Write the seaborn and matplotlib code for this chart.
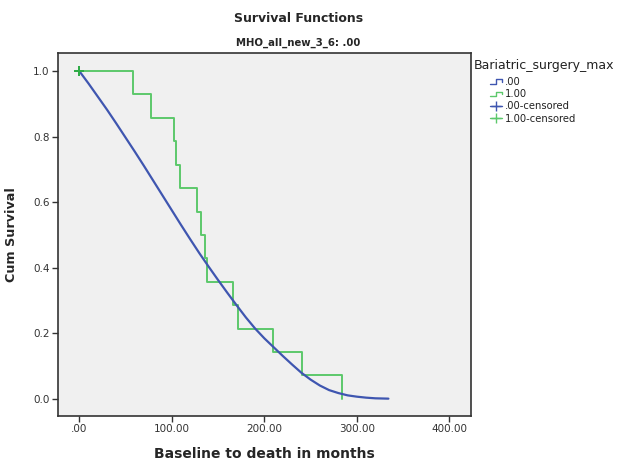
import matplotlib
matplotlib.use("Agg")
import matplotlib.pyplot as plt
import pandas as pd
import seaborn as sns
from matplotlib.lines import Line2D
from matplotlib.legend_handler import HandlerBase

# Group .00 : cumulative survival estimates over time (months)
time_00 = [0, 10, 20, 30, 40, 50, 60, 70, 80, 90, 100, 110, 120, 130, 140, 150,
           160, 170, 180, 190, 200, 210, 220, 230, 240, 250, 260, 270, 280, 290,
           300, 310, 320, 334]
surv_00 = [1.000, 0.962, 0.922, 0.882, 0.840, 0.797, 0.754, 0.710, 0.665, 0.620,
           0.575, 0.530, 0.486, 0.443, 0.402, 0.362, 0.323, 0.285, 0.248, 0.214,
           0.184, 0.157, 0.130, 0.104, 0.079, 0.058, 0.040, 0.026, 0.017, 0.010,
           0.006, 0.003, 0.001, 0.000]

# Group 1.00 : Kaplan-Meier steps (event times and survival after each event)
time_100 = [0, 58.5, 78, 102, 104, 109, 127.5, 131, 135.5, 138, 166, 172, 209, 241, 284]
surv_100 = [1.000, 0.929, 0.857, 0.786, 0.714, 0.643, 0.571, 0.500, 0.429,
            0.357, 0.286, 0.214, 0.143, 0.071, 0.000]

# Censored observations
cens_time_00 = [0]
cens_surv_00 = [1.0]
cens_time_100 = [0]
cens_surv_100 = [1.0]

group_labels = [".00", "1.00", ".00-censored", "1.00-censored"]
x_ticks = [0, 100, 200, 300, 400]
x_tick_labels = [".00", "100.00", "200.00", "300.00", "400.00"]
y_ticks = [0.0, 0.2, 0.4, 0.6, 0.8, 1.0]
y_tick_labels = ["0.0", "0.2", "0.4", "0.6", "0.8", "1.0"]

BLUE = "#3f56b0"
GREEN = "#5cc86b"
GREEN_DARK = "#2fae45"

sns.set_style("white")
plt.rcParams["font.family"] = ["DejaVu Sans"]

fig = plt.figure(figsize=(6.17, 4.61), dpi=100)
ax = fig.add_axes([0.094, 0.0976, 0.669, 0.788])
ax.set_facecolor("#f0f0f0")

df0 = pd.DataFrame({"t": time_00, "s": surv_00})
df1 = pd.DataFrame({"t": time_100, "s": surv_100})

sns.lineplot(data=df1, x="t", y="s", ax=ax, color=GREEN, lw=1.4,
             drawstyle="steps-post", estimator=None, sort=False, zorder=2)
sns.lineplot(data=df0, x="t", y="s", ax=ax, color=BLUE, lw=1.6,
             estimator=None, sort=False, zorder=3)
sns.scatterplot(x=cens_time_00, y=cens_surv_00, ax=ax, marker="+", s=60,
                color=BLUE, linewidth=1.4, zorder=4)
sns.scatterplot(x=cens_time_100, y=cens_surv_100, ax=ax, marker="+", s=60,
                color=GREEN_DARK, linewidth=1.4, zorder=5)

ax.set_xlim(-23, 423)
ax.set_ylim(-0.053, 1.056)
ax.set_xticks(x_ticks)
ax.set_xticklabels(x_tick_labels)
ax.set_yticks(y_ticks)
ax.set_yticklabels(y_tick_labels)
ax.tick_params(axis="both", which="both", direction="out", length=4, width=1,
               color="#333333", labelsize=7.5, labelcolor="#333333", pad=2,
               bottom=True, left=True)
for sp in ax.spines.values():
    sp.set_color("#333333")
    sp.set_linewidth(1.2)

ax.set_xlabel("Baseline to death in months", fontsize=10, fontweight="bold",
              labelpad=9)
ax.set_ylabel("Cum Survival", fontsize=9.2, fontweight="bold", labelpad=11)

fig.text(0.484, 0.96, "Survival Functions", ha="center", va="center",
         fontsize=9, fontweight="bold")
fig.text(0.484, 0.907, "MHO_all_new_3_6: .00", ha="center", va="center",
         fontsize=7.3, fontweight="bold")


class StepHandler(HandlerBase):
    def create_artists(self, legend, orig_handle, xdescent, ydescent,
                       width, height, fontsize, trans):
        x0, y0 = -xdescent, -ydescent
        xs = [x0, x0 + 0.5 * width, x0 + 0.5 * width, x0 + width, x0 + width]
        ys = [y0 + 0.15 * height, y0 + 0.15 * height, y0 + 0.8 * height,
              y0 + 0.8 * height, y0 + 0.45 * height]
        return [Line2D(xs, ys, color=orig_handle.get_color(), lw=1.0,
                       transform=trans)]


class CensorHandler(HandlerBase):
    def create_artists(self, legend, orig_handle, xdescent, ydescent,
                       width, height, fontsize, trans):
        x0, y0 = -xdescent, -ydescent
        yc = y0 + 0.45 * height
        ln = Line2D([x0, x0 + width], [yc, yc], color=orig_handle.get_color(),
                    lw=1.0, transform=trans)
        mk = Line2D([x0 + 0.5 * width], [yc], color=orig_handle.get_color(),
                    marker="+", markersize=7, mew=1.0, ls="none",
                    transform=trans)
        return [ln, mk]


class StepKey(Line2D):
    pass


class CensorKey(Line2D):
    pass


# Legend title sits flush left; the keys are indented below it
fig.text(474 / 617, 1 - 66 / 461, "Bariatric_surgery_max", ha="left",
         va="center", fontsize=9, color="#222222")

handles = [StepKey([], [], color=BLUE), StepKey([], [], color=GREEN),
           CensorKey([], [], color=BLUE), CensorKey([], [], color=GREEN)]
leg = ax.legend(handles, group_labels,
                loc="upper left", bbox_to_anchor=(490 / 617, 1 - 77 / 461),
                bbox_transform=fig.transFigure, frameon=False,
                fontsize=7.2, handlelength=1.2,
                handletextpad=0.25, labelspacing=0.22, borderpad=0.0,
                borderaxespad=0.0,
                handler_map={StepKey: StepHandler(), CensorKey: CensorHandler()})
for t in leg.get_texts():
    t.set_color("#222222")

fig.savefig("out.png", dpi=100, facecolor="white")
